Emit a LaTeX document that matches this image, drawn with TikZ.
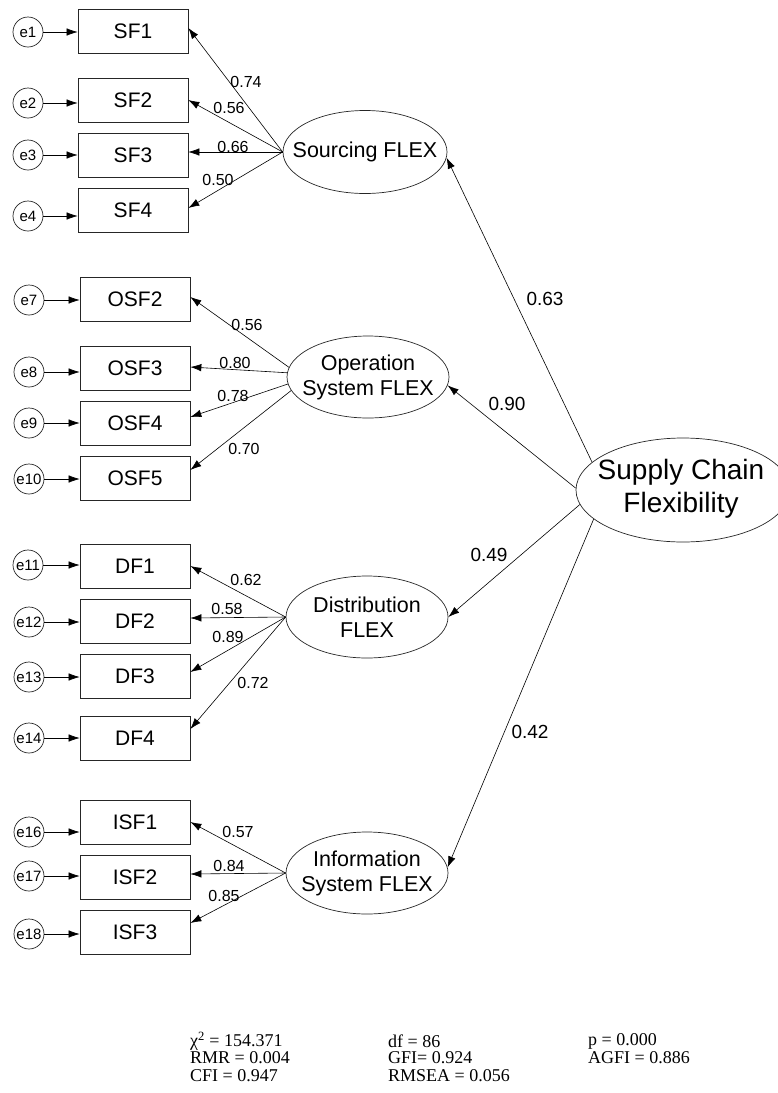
\documentclass[tikz,border=0pt]{standalone}
\usepackage{fontspec}
\setmainfont{Liberation Sans}
\newfontfamily\tms{Liberation Serif}
\usetikzlibrary{shapes.geometric,arrows.meta}
\tikzset{
  obs/.style={draw=black!85, line width=0.7pt, rectangle, minimum width=110pt, minimum height=44pt, inner sep=0pt, font=\fontsize{21}{21}\selectfont},
  err/.style={draw=black!85, line width=0.7pt, circle, minimum size=30pt, inner sep=0pt, font=\fontsize{15}{15}\selectfont},
  lat/.style={draw=black!85, line width=0.7pt, ellipse, minimum width=162pt, minimum height=82pt, inner sep=0pt},
  lattext/.style={align=center, inner sep=0pt, font=\fontsize{21.5}{25}\selectfont},
  bigtext/.style={align=center, inner sep=0pt, font=\fontsize{28}{33}\selectfont},
  arr/.style={-{Latex[length=11pt,width=7.5pt]}, line width=0.6pt},
  coef/.style={inner sep=0pt, font=\fontsize{16}{16}\selectfont},
  bigcoef/.style={inner sep=0pt, font=\fontsize{19}{19}\selectfont},
  stat/.style={anchor=west, inner sep=0pt, font=\tms\fontsize{18}{18}\selectfont},
}
\begin{document}
\begin{tikzpicture}[x=1pt,y=-1pt]
\useasboundingbox (0,0) rectangle (778,1093);
% Sourcing
\node[obs] (sf1) at (133,31) {SF1};
\node[obs] (sf2) at (133,100) {SF2};
\node[obs] (sf3) at (133,155) {SF3};
\node[obs] (sf4) at (133,210) {SF4};
\node[err] (e1) at (28,32) {e1};
\node[err] (e2) at (28,103) {e2};
\node[err] (e3) at (28,155) {e3};
\node[err] (e4) at (28,216) {e4};
\node[lat, minimum width=164pt, minimum height=83pt, label={[lattext]center:Sourcing FLEX}] (sfl) at (365,152) {};
% Operation
\node[obs] (osf2) at (135,299) {OSF2};
\node[obs] (osf3) at (135,368) {OSF3};
\node[obs] (osf4) at (135,423) {OSF4};
\node[obs] (osf5) at (135,478) {OSF5};
\node[err] (e7) at (29,300) {e7};
\node[err] (e8) at (29,372) {e8};
\node[err] (e9) at (29,423) {e9};
\node[err] (e10) at (29,479) {e10};
\node[lat, label={[lattext]center:Operation\\System FLEX}] (osf) at (368,377) {};
% Distribution
\node[obs] (df1) at (135,566) {DF1};
\node[obs] (df2) at (135,621) {DF2};
\node[obs] (df3) at (135,676) {DF3};
\node[obs] (df4) at (135,738) {DF4};
\node[err] (e11) at (28,565) {e11};
\node[err] (e12) at (29,622) {e12};
\node[err] (e13) at (29,677) {e13};
\node[err] (e14) at (29,738) {e14};
\node[lat, label={[lattext]center:Distribution\\FLEX}] (dfl) at (367,617) {};
% Information
\node[obs] (isf1) at (135,822) {ISF1};
\node[obs] (isf2) at (135,877) {ISF2};
\node[obs] (isf3) at (135,932) {ISF3};
\node[err] (e16) at (29,832) {e16};
\node[err] (e17) at (29,876) {e17};
\node[err] (e18) at (29,934) {e18};
\node[lat, label={[lattext]center:Information\\System FLEX}] (isfl) at (367,873) {};
% Supply chain
\node[lat, minimum width=214pt, minimum height=104pt] (scf) at (683,490) {};
\node[bigtext] (scft) at (681,489) {Supply Chain\\Flexibility};
% error arrows
\foreach \e/\b in {e1/sf1,e2/sf2,e3/sf3,e4/sf4,e7/osf2,e8/osf3,e9/osf4,e10/osf5,e11/df1,e12/df2,e13/df3,e14/df4,e16/isf1,e17/isf2,e18/isf3}
  \draw[arr] (\e.east) -- (\e.east -| \b.west);
% loadings
\draw[arr] (sfl.west) -- ([yshift=3pt]sf1.east);
\draw[arr] (sfl.west) -- (sf2.east);
\draw[arr] (sfl.west) -- ([yshift=3pt]sf3.east);
\draw[arr] (sfl.west) -- ([yshift=2pt]sf4.east);
\draw[arr] (osf.173) -- ([yshift=2pt]osf2.east);
\draw[arr] (osf.177) -- ([yshift=1pt]osf3.east);
\draw[arr] (osf.185) -- ([yshift=6pt]osf4.east);
\draw[arr] (osf.190) -- ([yshift=8pt]osf5.east);
\draw[arr] (dfl.west) -- (df1.east);
\draw[arr] (dfl.west) -- ([yshift=3pt]df2.east);
\draw[arr] (dfl.west) -- ([yshift=4pt]df3.east);
\draw[arr] (dfl.west) -- ([yshift=9pt]df4.east);
\draw[arr] (isfl.west) -- (isf1.east);
\draw[arr] (isfl.west) -- ([yshift=3pt]isf2.east);
\draw[arr] (isfl.west) -- ([yshift=9pt]isf3.east);
\draw[arr] (scf.163.6) -- (sfl.-4);
\draw[arr] (scf.179) -- (osf.-6);
\draw[arr] (scf.188) -- (dfl.east);
\draw[arr] (scf.198) -- (isfl.4);
% coefficient labels
\node[coef] (c1) at (246,82) {0.74};
\node[coef] (c2) at (229,108) {0.56};
\node[coef] (c3) at (233,147) {0.66};
\node[coef] (c4) at (218,180) {0.50};
\node[coef] (c5) at (247,325) {0.56};
\node[coef] (c6) at (235,363) {0.80};
\node[coef] (c7) at (233,396) {0.78};
\node[coef] (c8) at (244,449) {0.70};
\node[coef] (c9) at (246,580) {0.62};
\node[coef] (c10) at (227,609) {0.58};
\node[coef] (c11) at (228,637) {0.89};
\node[coef] (c12) at (253,683) {0.72};
\node[coef] (c13) at (238,832) {0.57};
\node[coef] (c14) at (229,866) {0.84};
\node[coef] (c15) at (224,896) {0.85};
\node[bigcoef] (g1) at (545,299) {0.63};
\node[bigcoef] (g2) at (507,404) {0.90};
\node[bigcoef] (g3) at (489,555) {0.49};
\node[bigcoef] (g4) at (530,732) {0.42};
% fit statistics
\node[stat] (s1) at (190,1041) {χ\textsuperscript{2} = 154.371};
\node[stat] (s2) at (388,1041) {df = 86};
\node[stat] (s3) at (588,1041) {p = 0.000};
\node[stat] (s4) at (190,1058) {RMR = 0.004};
\node[stat] (s5) at (388,1058) {GFI= 0.924};
\node[stat] (s6) at (588,1058) {AGFI = 0.886};
\node[stat] (s7) at (190,1076) {CFI = 0.947};
\node[stat] (s8) at (388,1076) {RMSEA = 0.056};
\end{tikzpicture}
\end{document}
